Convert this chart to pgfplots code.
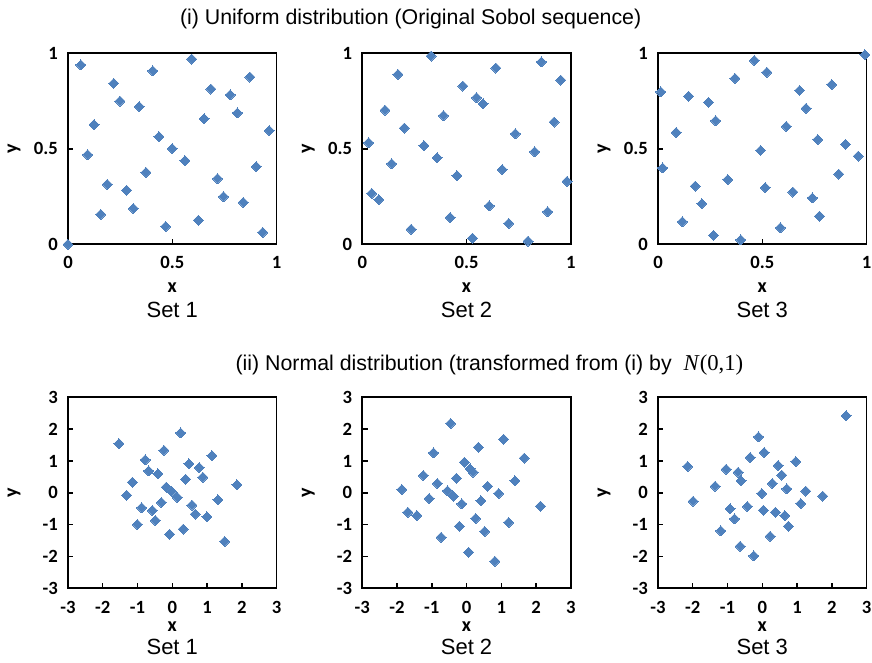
\documentclass[border=0pt]{standalone}
\usepackage{fontspec}
\setmainfont{Liberation Sans}
\newfontfamily\carlito{Carlito}
\newfontfamily\timesf{Liberation Serif}
\usepackage{pgfplots}
\pgfplotsset{compat=1.18}
\definecolor{mk}{RGB}{79,129,189}
\pgfplotsset{
  base/.style={width=156.4pt,height=143.3pt,scale only axis,clip=false,
    axis line style={line width=1.4pt},
    every tick/.style={black,line width=1.1pt},
    tick align=inside, major tick length=4pt,
    xtick pos=bottom, ytick pos=left,
    ticklabel style={font=\carlito\bfseries\fontsize{14}{16}\selectfont, inner sep=0pt},
    yticklabel style={anchor=east, xshift=-7.5pt},
    label style={font=\carlito\bfseries\fontsize{15}{17}\selectfont, inner sep=0pt},
    xlabel={x}, ylabel={y},
    ylabel style={at={(axis description cs:-0.259,0.5)}, anchor=center},
  },
  top/.style={base, xmin=0,xmax=1,ymin=0,ymax=1,
    xtick={0,0.5,1}, ytick={0,0.5,1}, xticklabels={0,0.5,1}, yticklabels={0,0.5,1},
    xticklabel style={anchor=north, yshift=-8.8pt},
    xlabel style={at={(axis description cs:0.5,-0.226)}, anchor=center},
  },
  bot/.style={base, xmin=-3,xmax=3,ymin=-3,ymax=3,
    xtick={-3,-2,-1,0,1,2,3}, ytick={-3,-2,-1,0,1,2,3},
    xticklabels={-3,-2,-1,0,1,2,3}, yticklabels={-3,-2,-1,0,1,2,3},
    xticklabel style={anchor=north, yshift=-9.5pt},
    xlabel style={at={(axis description cs:0.5,-0.2)}, anchor=center},
  },
  pts/.style={only marks, mark=square*, mark size=2.65pt, mark options={draw=mk, fill=mk, rotate=45, line width=0pt}},
}
\newcommand{\setlab}[2]{\node[font=\fontsize{16.5}{19}\selectfont, inner sep=0pt] at (axis description cs:0.5,0) [yshift=-#2] {Set #1};}
\begin{document}
\begin{tikzpicture}
\path[use as bounding box] (0,0) rectangle (654pt,-497.25pt);
\node[font=\fontsize{16}{19}\selectfont] at (308pt,-14.25pt) {(i) Uniform distribution (Original Sobol sequence)};
\node[anchor=east, font=\fontsize{16}{19}\selectfont] at (561pt,-273.5pt) {(ii) Normal distribution (transformed from (i) by \ {\timesf\fontsize{17}{19}\selectfont\textit{N}(0,1)}};

% ---- top row ----
\begin{axis}[top, at={(51pt,-40pt)}, anchor=north west]
\addplot[pts] table {
x y
0 0
0.062 0.939
0.219 0.843
0.406 0.908
0.593 0.970
0.249 0.750
0.342 0.721
0.125 0.627
0.685 0.813
0.778 0.782
0.872 0.876
0.812 0.688
0.653 0.658
0.965 0.595
0.436 0.564
0.094 0.469
0.500 0.501
0.561 0.438
0.374 0.377
0.903 0.407
0.717 0.344
0.188 0.314
0.281 0.283
0.746 0.250
0.840 0.220
0.313 0.188
0.157 0.157
0.625 0.126
0.468 0.094
0.934 0.063
};
\setlab{1}{48.9pt}
\end{axis}

\begin{axis}[top, at={(271.7pt,-40pt)}, anchor=north west]
\addplot[pts] table {
x y
0.330 0.986
0.171 0.890
0.641 0.923
0.859 0.955
0.952 0.860
0.482 0.829
0.548 0.768
0.579 0.735
0.109 0.703
0.389 0.674
0.920 0.640
0.202 0.609
0.734 0.579
0.030 0.532
0.296 0.517
0.827 0.485
0.359 0.454
0.141 0.422
0.671 0.391
0.454 0.360
0.982 0.330
0.046 0.267
0.079 0.234
0.609 0.202
0.889 0.171
0.421 0.141
0.702 0.110
0.234 0.079
0.529 0.033
0.795 0.017
};
\setlab{2}{48.9pt}
\end{axis}

\begin{axis}[top, at={(493.5pt,-40pt)}, anchor=north west]
\addplot[pts] table {
x y
0.992 0.993
0.462 0.963
0.522 0.901
0.369 0.869
0.014 0.798
0.147 0.775
0.242 0.743
0.679 0.806
0.833 0.836
0.710 0.712
0.276 0.647
0.615 0.618
0.087 0.586
0.766 0.548
0.899 0.524
0.492 0.492
0.960 0.462
0.022 0.400
0.867 0.368
0.335 0.339
0.179 0.305
0.514 0.297
0.647 0.274
0.740 0.243
0.210 0.213
0.774 0.148
0.117 0.119
0.587 0.087
0.266 0.047
0.397 0.024
};
\setlab{3}{48.9pt}
\end{axis}

% ---- bottom row ----
\begin{axis}[bot, at={(51pt,-298pt)}, anchor=north west]
\addplot[pts] table {
x y
-1.533 1.547
0.241 1.881
-0.239 1.337
1.142 1.170
-0.776 1.034
0.480 0.909
-0.680 0.690
-0.411 0.596
0.778 0.794
0.883 0.491
0.384 0.428
-1.150 0.334
1.861 0.251
-0.172 0.178
-0.018 0.042
0.145 -0.146
-1.313 -0.073
1.314 -0.219
-0.315 -0.303
0.567 -0.387
-0.881 -0.470
-0.574 -0.554
0.662 -0.669
0.998 -0.752
-0.488 -0.867
-1.006 -0.993
0.317 -1.139
-0.076 -1.296
1.506 -1.526
};
\setlab{1}{44pt}
\end{axis}

\begin{axis}[bot, at={(271.7pt,-298pt)}, anchor=north west]
\addplot[pts] table {
x y
-0.455 2.178
1.067 1.686
0.340 1.435
-0.952 1.257
1.660 1.089
-0.062 0.963
0.100 0.754
0.187 0.649
-1.239 0.545
-0.292 0.461
-0.837 0.293
1.392 0.377
0.608 0.209
-1.861 0.105
-0.550 0.063
-0.378 -0.105
0.923 -0.021
-1.077 -0.178
0.416 -0.251
-0.139 -0.346
2.129 -0.419
-1.689 -0.607
-1.431 -0.712
0.263 -0.806
1.211 -0.932
-0.206 -1.047
0.522 -1.215
-0.732 -1.393
0.062 -1.864
0.818 -2.147
};
\setlab{2}{44pt}
\end{axis}

\begin{axis}[bot, at={(493.5pt,-298pt)}, anchor=north west]
\addplot[pts] table {
x y
2.413 2.419
-0.111 1.759
0.052 1.267
-0.351 1.110
0.964 0.984
-2.146 0.827
-1.042 0.743
0.455 0.859
-0.697 0.649
0.560 0.555
-0.610 0.377
0.292 0.293
-1.359 0.209
0.704 0.126
1.251 0.052
-0.015 -0.021
1.741 -0.105
-1.992 -0.262
1.107 -0.335
-0.428 -0.429
-0.927 -0.503
0.033 -0.545
0.378 -0.607
0.647 -0.712
-0.802 -0.817
0.752 -1.047
-1.196 -1.194
0.225 -1.361
-0.639 -1.675
-0.246 -1.979
};
\setlab{3}{44pt}
\end{axis}
\end{tikzpicture}
\end{document}
